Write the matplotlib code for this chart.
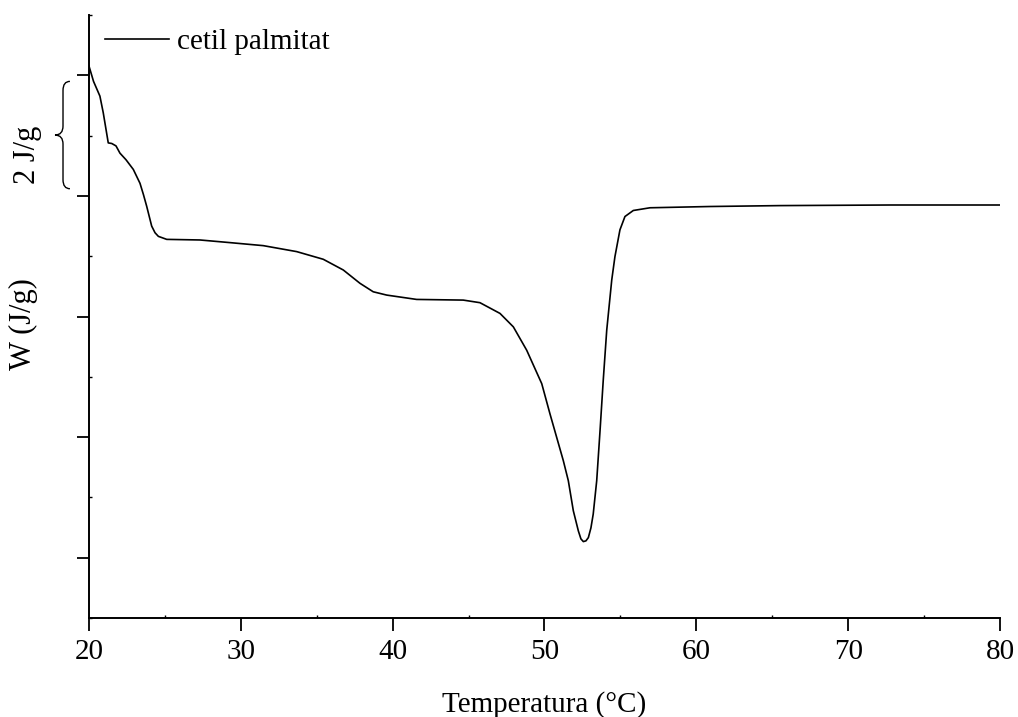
import numpy as np
import matplotlib.pyplot as plt
from matplotlib.path import Path
from matplotlib.patches import PathPatch
from matplotlib.ticker import MultipleLocator
import matplotlib.transforms as mtransforms

plt.rcParams['font.family'] = ['Liberation Serif', 'DejaVu Serif']

# DSC curve (temperature in °C, heat flow in J/g, arbitrary offset)
temperatura = [20.0, 20.3, 20.72, 20.94, 21.27, 21.5, 21.78, 22.04, 22.44, 22.92,
               23.36, 23.59, 23.8, 24.13, 24.35, 24.57, 25.12, 27.31, 29.29, 31.48,
               33.68, 35.43, 36.75, 37.85, 38.72, 39.61, 41.58, 44.65, 45.75, 47.07,
               47.95, 48.83, 49.82, 50.36, 51.24, 51.57, 51.9, 52.23, 52.4, 52.56,
               52.73, 52.89, 53.06, 53.21, 53.44, 53.66, 53.87, 54.1, 54.43, 54.64,
               54.97, 55.3, 55.85, 56.95, 60.9, 65.51, 72.76, 80.0]
W = [0.155, -0.1, -0.344, -0.62, -1.12, -1.13, -1.17, -1.29, -1.40, -1.56,
     -1.79, -1.98, -2.17, -2.50, -2.61, -2.67, -2.72, -2.73, -2.774, -2.824,
     -2.923, -3.05, -3.228, -3.449, -3.589, -3.644, -3.716, -3.727, -3.77, -3.948,
     -4.171, -4.559, -5.113, -5.612, -6.389, -6.722, -7.221, -7.554, -7.687, -7.732,
     -7.72, -7.666, -7.504, -7.276, -6.722, -5.89, -5.058, -4.226, -3.394, -3.007,
     -2.562, -2.341, -2.241, -2.196, -2.175, -2.16, -2.15, -2.15]

x_ticks = [20, 30, 40, 50, 60, 70, 80]
y_ticks = [0, -2, -4, -6, -8]

fig = plt.figure(figsize=(10.18, 7.17), dpi=100)
ax = fig.add_axes([0.0874, 0.138, 0.8949, 0.841])

ax.plot(temperatura, W, color='black', lw=1.2, label='cetil palmitat')

ax.set_xlim(20, 80)
ax.set_ylim(-9.0, 1.0)
ax.set_xticks(x_ticks)
ax.set_yticks(y_ticks)
ax.set_yticklabels([])
ax.xaxis.set_minor_locator(MultipleLocator(5))
ax.yaxis.set_minor_locator(MultipleLocator(1))
ax.tick_params(which='major', direction='out', length=9, width=1.3, labelsize=21, pad=6)
ax.tick_params(which='minor', direction='in', length=2, width=1.0)
for s in ['top', 'right']:
    ax.spines[s].set_visible(False)
for s in ['left', 'bottom']:
    ax.spines[s].set_linewidth(1.4)

ax.set_xlabel('Temperatura (°C)', fontsize=21, labelpad=19)
ax.set_ylabel('W (J/g)', fontsize=22)
ax.yaxis.set_label_coords(-0.056, 0.488)

leg = ax.legend(loc='upper left', bbox_to_anchor=(0.0, 1.004), frameon=False,
                fontsize=21, handlelength=2.2, handletextpad=0.28,
                borderaxespad=0.15)

# curly brace marking 2 J/g between two major ticks
trans = mtransforms.blended_transform_factory(ax.transAxes, ax.transData)
xe, xm, xt = -0.0209, -0.0285, -0.0373
yt, yb = -0.10, -1.88
ymid = (yt + yb) / 2
verts = [(xe, yt), (xm, yt), (xm, yt - 0.15),
         (xm, ymid + 0.15),
         (xm, ymid), (xt, ymid),
         (xm, ymid), (xm, ymid - 0.15),
         (xm, yb + 0.15),
         (xm, yb), (xe, yb)]
codes = [Path.MOVETO, Path.CURVE3, Path.CURVE3,
         Path.LINETO,
         Path.CURVE3, Path.CURVE3,
         Path.CURVE3, Path.CURVE3,
         Path.LINETO,
         Path.CURVE3, Path.CURVE3]
brace = PathPatch(Path(verts, codes), transform=trans, fill=False,
                  lw=1.0, color='black', clip_on=False)
ax.add_patch(brace)
ax.text(-0.068, -1.31, '2 J/g', transform=trans, rotation=90,
        fontsize=22, ha='center', va='center')

fig.savefig('out.png', dpi=100)
